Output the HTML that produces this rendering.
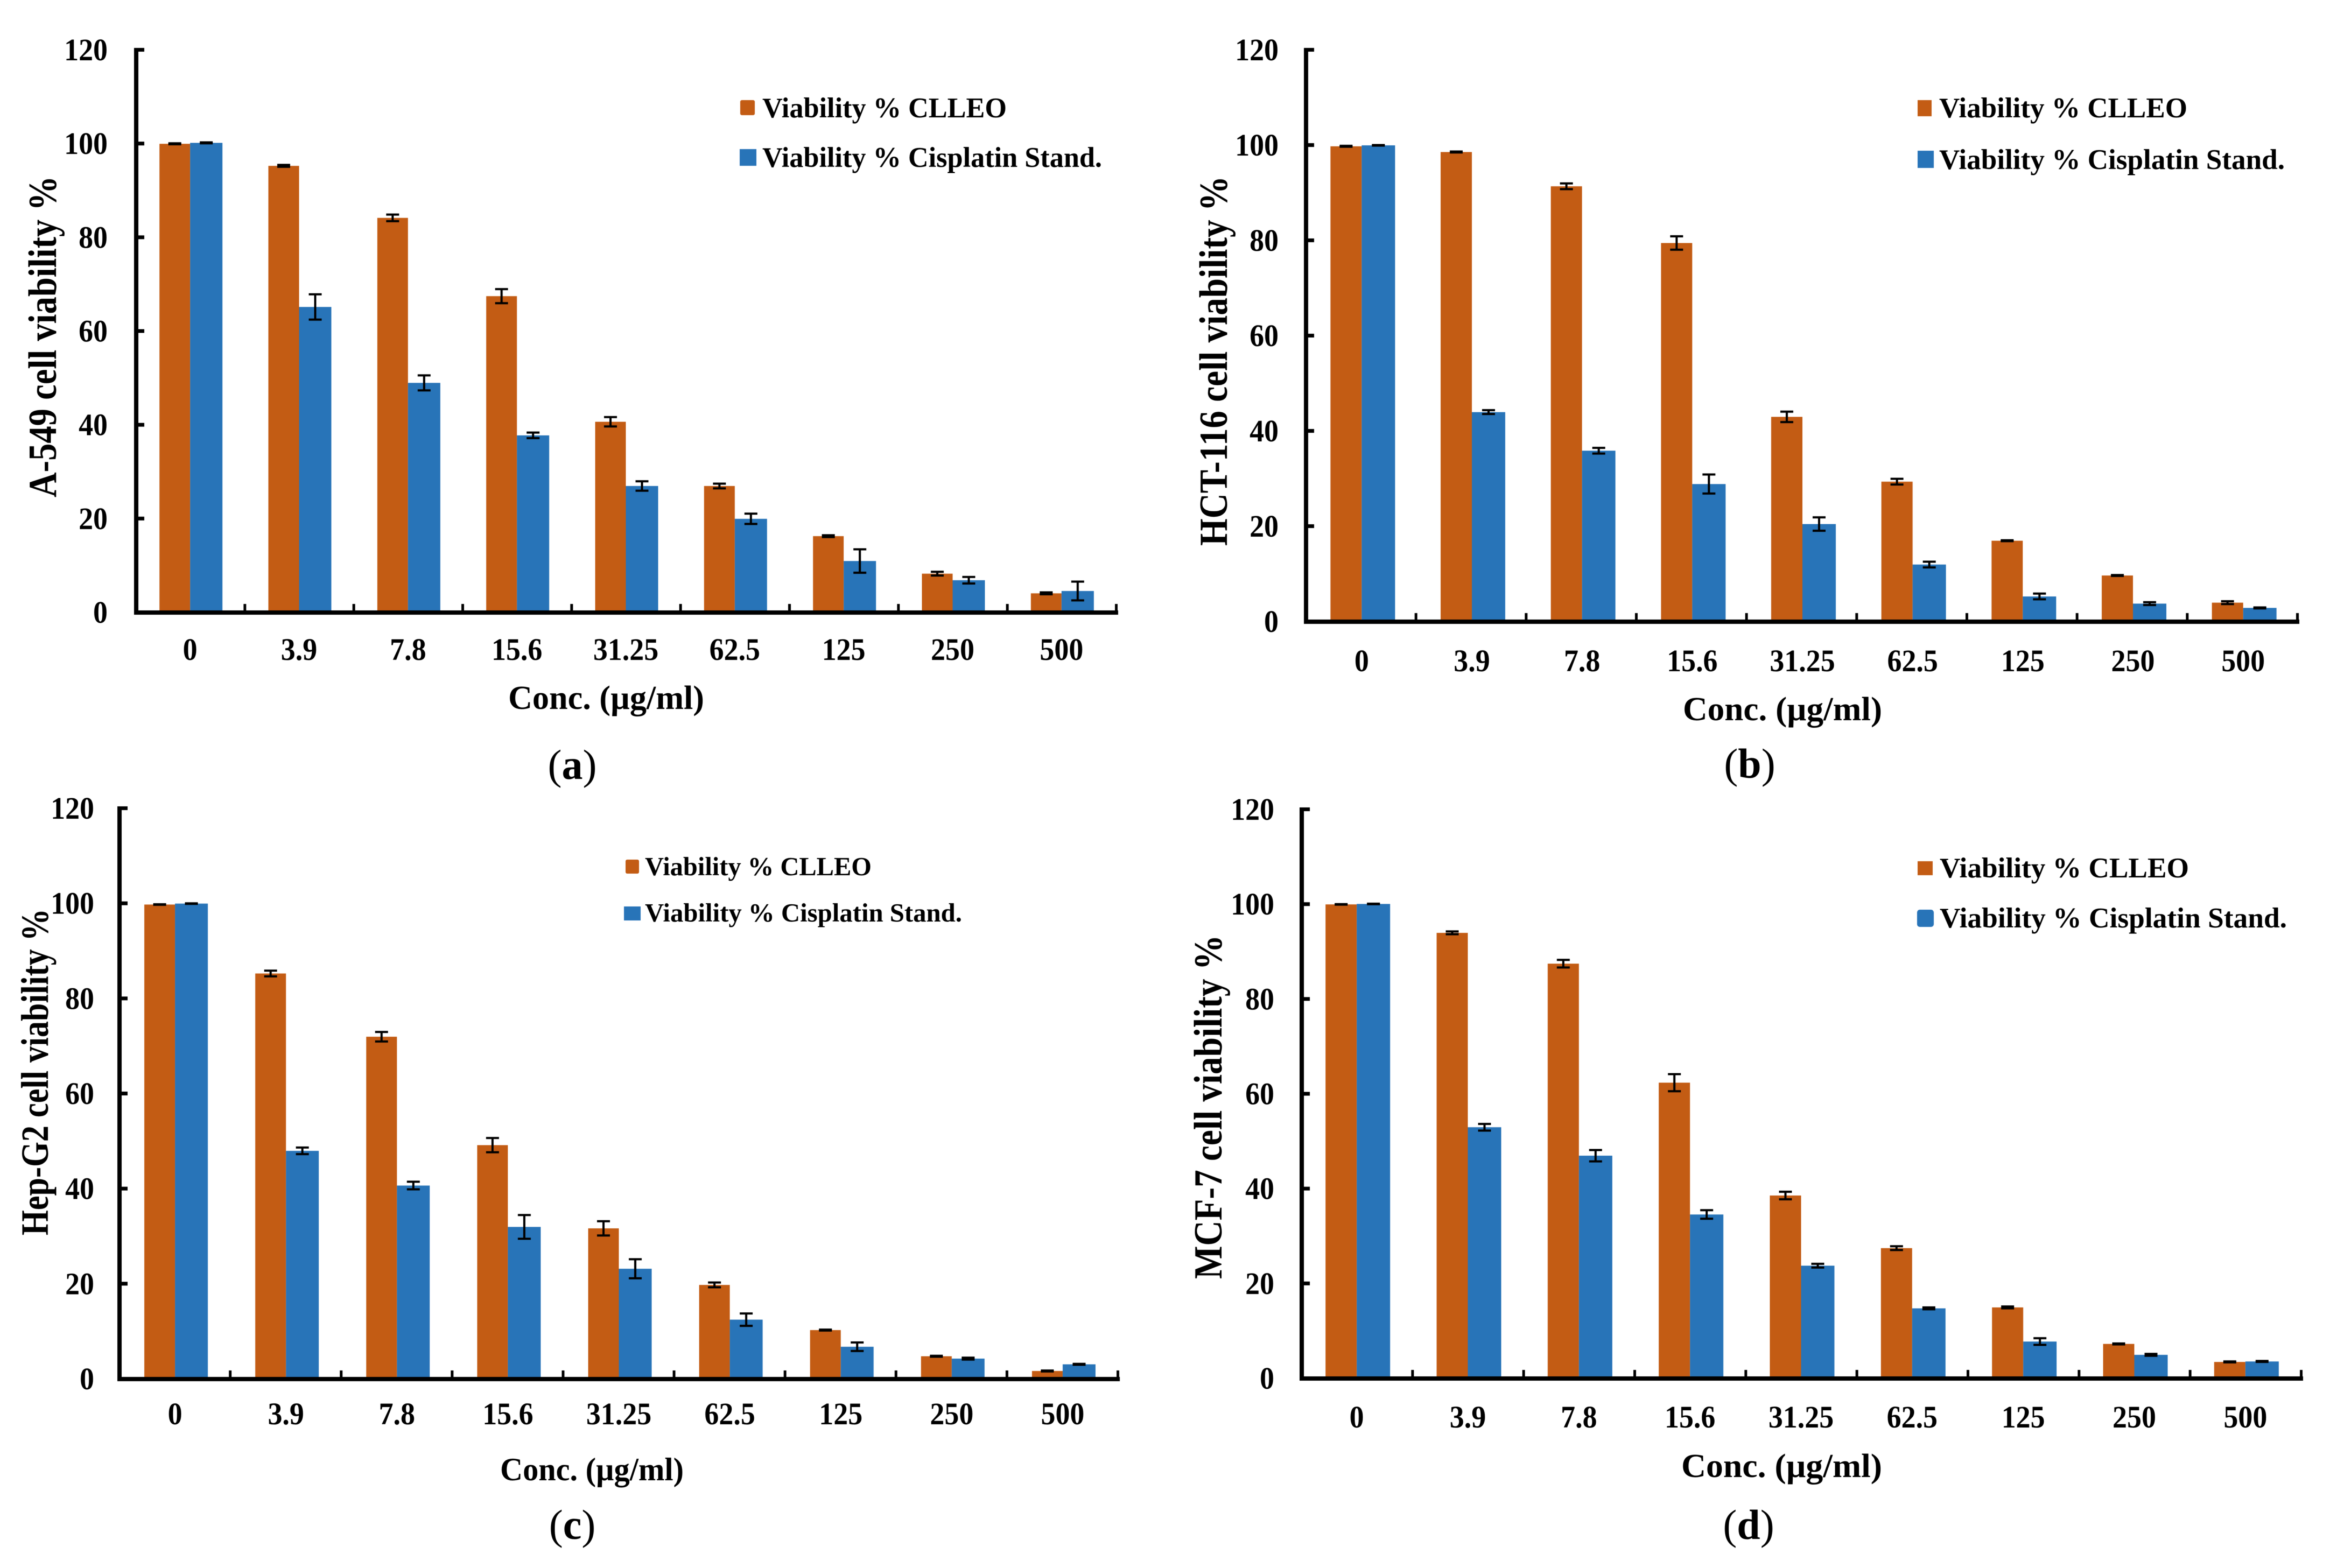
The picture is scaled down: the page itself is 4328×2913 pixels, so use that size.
<!DOCTYPE html>
<html lang="en">
<head>
<meta charset="utf-8">
<title>Cell viability charts</title>
<style>
html,body{margin:0;padding:0;background:#fff;}
svg{display:block;filter:blur(0.8px);}
text{font-family:"Liberation Serif",serif;font-weight:bold;fill:#000;}
.cap{font-weight:normal;font-size:78px;text-anchor:middle;}
.cap tspan{font-weight:bold;}
</style>
</head>
<body>
<svg id="figure" xmlns="http://www.w3.org/2000/svg" width="4328" height="2913" viewBox="0 0 4328 2913">
<rect x="0" y="0" width="4328" height="2913" fill="#fff"/>

<g id="panel-a">
  <text transform="translate(104,924) rotate(-90)" font-size="74" textLength="597" lengthAdjust="spacingAndGlyphs">A-549 cell viability %</text>
  <text x="944" y="1317" font-size="62" textLength="364" lengthAdjust="spacingAndGlyphs">Conc. (µg/ml)</text>
  <rect x="1375" y="186" width="27" height="28" rx="3" fill="#C35C14"/>
  <text x="1416" y="218" font-size="53" textLength="454" lengthAdjust="spacingAndGlyphs">Viability % CLLEO</text>
  <rect x="1374" y="277" width="31" height="31" fill="#2874B8"/>
  <text x="1416" y="310" font-size="53" textLength="631" lengthAdjust="spacingAndGlyphs">Viability % Cisplatin Stand.</text>
  <text class="cap" x="1063" y="1447">(<tspan>a</tspan>)</text>
</g>

<g id="panel-b">
  <text transform="translate(2279,1014) rotate(-90)" font-size="74" textLength="687" lengthAdjust="spacingAndGlyphs">HCT-116 cell viability %</text>
  <text x="3126" y="1338" font-size="62" textLength="370" lengthAdjust="spacingAndGlyphs">Conc. (µg/ml)</text>
  <rect x="3562" y="186" width="26" height="30" fill="#C35C14"/>
  <text x="3602" y="218" font-size="53" textLength="461" lengthAdjust="spacingAndGlyphs">Viability % CLLEO</text>
  <rect x="3562" y="280" width="30" height="32" fill="#2874B8"/>
  <text x="3602" y="314" font-size="53" textLength="642" lengthAdjust="spacingAndGlyphs">Viability % Cisplatin Stand.</text>
  <text class="cap" x="3250" y="1445">(<tspan>b</tspan>)</text>
</g>

<g id="panel-c">
  <text transform="translate(89,2295) rotate(-90)" font-size="72" textLength="607" lengthAdjust="spacingAndGlyphs">Hep-G2 cell viability %</text>
  <text x="929" y="2750" font-size="60" textLength="341" lengthAdjust="spacingAndGlyphs">Conc. (µg/ml)</text>
  <rect x="1162" y="1597" width="25" height="26" rx="3" fill="#C35C14"/>
  <text x="1198" y="1626" font-size="49" textLength="421" lengthAdjust="spacingAndGlyphs">Viability % CLLEO</text>
  <rect x="1159" y="1684" width="31" height="26" fill="#2874B8"/>
  <text x="1198" y="1712" font-size="49" textLength="589" lengthAdjust="spacingAndGlyphs">Viability % Cisplatin Stand.</text>
  <text class="cap" x="1063" y="2859">(<tspan>c</tspan>)</text>
</g>

<g id="panel-d">
  <text transform="translate(2269,2376) rotate(-90)" font-size="74" textLength="639" lengthAdjust="spacingAndGlyphs">MCF-7 cell viability %</text>
  <text x="3123" y="2744" font-size="62" textLength="373" lengthAdjust="spacingAndGlyphs">Conc. (µg/ml)</text>
  <rect x="3562" y="1600" width="28" height="26" fill="#C35C14"/>
  <text x="3603" y="1630" font-size="53" textLength="463" lengthAdjust="spacingAndGlyphs">Viability % CLLEO</text>
  <rect x="3561" y="1690" width="31" height="32" rx="5" fill="#2874B8"/>
  <text x="3603" y="1723" font-size="53" textLength="645" lengthAdjust="spacingAndGlyphs">Viability % Cisplatin Stand.</text>
  <text class="cap" x="3248" y="2859">(<tspan>d</tspan>)</text>
</g>
</svg>

<script>
// Shared axis data
const categories = ["0", "3.9", "7.8", "15.6", "31.25", "62.5", "125", "250", "500"];
const yTickLabels = [0, 20, 40, 60, 80, 100, 120];

// Panel (a) A-549
const a549Clleo = [100, 95.3, 84.2, 67.5, 40.7, 27, 16.3, 8.3, 4.1];
const a549ClleoErr = [0.1, 0.2, 0.7, 1.5, 1, 0.5, 0.2, 0.4, 0.2];
const a549Cisplatin = [100.2, 65.2, 49, 37.8, 27, 20, 11, 6.9, 4.6];
const a549CisplatinErr = [0.1, 2.7, 1.6, 0.6, 1, 1.1, 2.5, 0.7, 2];

// Panel (b) HCT-116
const hctClleo = [99.8, 98.6, 91.4, 79.5, 43, 29.4, 17, 9.7, 4];
const hctClleoErr = [0.1, 0.1, 0.6, 1.4, 1.1, 0.6, 0.1, 0.1, 0.3];
const hctCisplatin = [100, 44, 35.9, 28.9, 20.5, 12, 5.3, 3.8, 2.9];
const hctCisplatinErr = [0.05, 0.4, 0.6, 2, 1.4, 0.6, 0.6, 0.3, 0.1];

// Panel (c) Hep-G2
const hepClleo = [99.8, 85.3, 72, 49.2, 31.7, 19.8, 10.3, 4.8, 1.7];
const hepClleoErr = [0.05, 0.6, 1, 1.5, 1.5, 0.5, 0.1, 0.1, 0.1];
const hepCisplatin = [100, 48, 40.7, 32, 23.2, 12.5, 6.8, 4.3, 3.1];
const hepCisplatinErr = [0.05, 0.7, 0.8, 2.5, 2, 1.3, 0.9, 0.2, 0.1];

// Panel (d) MCF-7
const mcfClleo = [100, 94, 87.5, 62.4, 38.6, 27.5, 15, 7.3, 3.5];
const mcfClleoErr = [0.05, 0.3, 0.8, 1.8, 0.8, 0.4, 0.2, 0.1, 0.1];
const mcfCisplatin = [100.1, 53, 47, 34.6, 23.8, 14.8, 7.8, 5, 3.6];
const mcfCisplatinErr = [0.05, 0.7, 1.2, 0.9, 0.4, 0.2, 0.7, 0.2, 0.1];

const SVGNS = "http://www.w3.org/2000/svg";
const ORANGE = "#C35C14";
const BLUE = "#2874B8";

function make(tag, parent, attrs) {
  const node = document.createElementNS(SVGNS, tag);
  for (const k in attrs) node.setAttribute(k, attrs[k]);
  parent.appendChild(node);
  return node;
}

function drawSeries(g, frame, xCenter, yScale, values, errs, isClleo) {
  values.forEach(function (v, i) {
    const cx = xCenter(i);
    const left = isClleo ? cx - frame.ow : cx;
    const w = isClleo ? frame.ow : frame.bw;
    const bar = make("rect", g, {x: left, y: yScale(v), width: w, height: yScale(0) - yScale(v), fill: isClleo ? ORANGE : BLUE});
    
    
  });
  values.forEach(function (v, i) {
    const cx = xCenter(i);
    const mid = isClleo ? cx - frame.ow / 2 : cx + frame.bw / 2;
    const top = yScale(v + errs[i]);
    const bottom = yScale(v - errs[i]);
    const stem = make("line", g, {x1: mid, x2: mid, y1: top, y2: bottom, stroke: "#000", "stroke-width": 4});
    
    
    const capTop = make("line", g, {x1: mid - 12, x2: mid + 12, y1: top, y2: top, stroke: "#000", "stroke-width": 4});
    
    
    const capBottom = make("line", g, {x1: mid - 12, x2: mid + 12, y1: bottom, y2: bottom, stroke: "#000", "stroke-width": 4});
    
    
  });
}

function drawPanel(frame, clleo, clleoErr, cis, cisErr) {
  const g = document.getElementById(frame.id);
  const step = (frame.xr - frame.x0) / categories.length;
  const xCenter = function (i) { return frame.x0 + (i + 0.5) * step + frame.off; };
  const yScale = function (v) { return frame.y0 - v * (frame.y0 - frame.top) / 120; };

  drawSeries(g, frame, xCenter, yScale, clleo, clleoErr, true);
  drawSeries(g, frame, xCenter, yScale, cis, cisErr, false);

  const yAxis = make("rect", g, {x: frame.x0 - 4, y: frame.top - 4, width: 8, height: frame.y0 - frame.top + 8, fill: "#000"});
  
  
  const xAxis = make("rect", g, {x: frame.x0 - 4, y: frame.y0 - 4, width: frame.xr - frame.x0 + 7, height: 8, fill: "#000"});
  
  

  yTickLabels.forEach(function (t) {
    const y = yScale(t);
    const tick = make("rect", g, {x: frame.x0, y: y - 4, width: 15, height: 7, fill: "#000"});
    
    
    const label = make("text", g, {transform: "translate(" + frame.yLabelX + "," + (y + 19) + ") scale(0.93,1)", "text-anchor": "end", "font-size": 58});
    
    
    label.textContent = String(t);
  });

  categories.forEach(function (c, i) {
    const tx = frame.x0 + (i + 1) * step;
    const tick = make("rect", g, {x: tx - 3, y: frame.y0 - 16, width: 5, height: 14, fill: "#000"});
    
    
    const label = make("text", g, {transform: "translate(" + xCenter(i) + "," + frame.xLabelY + ") scale(0.93,1)", "text-anchor": "middle", "font-size": 58});
    
    
    label.textContent = c;
  });
}

drawPanel({id: "panel-a", x0: 253, xr: 2074, top: 93, y0: 1138, off: -1, ow: 57, bw: 60, yLabelX: 200, xLabelY: 1226}, a549Clleo, a549ClleoErr, a549Cisplatin, a549CisplatinErr);
drawPanel({id: "panel-b", x0: 2426, xr: 4268, top: 93, y0: 1155, off: 1, ow: 58, bw: 62, yLabelX: 2375, xLabelY: 1247}, hctClleo, hctClleoErr, hctCisplatin, hctCisplatinErr);
drawPanel({id: "panel-c", x0: 222, xr: 2077, top: 1502, y0: 2562, off: 0, ow: 57, bw: 61, yLabelX: 175, xLabelY: 2646}, hepClleo, hepClleoErr, hepCisplatin, hepCisplatinErr);
drawPanel({id: "panel-d", x0: 2418, xr: 4275, top: 1504, y0: 2561, off: -1, ow: 58, bw: 62, yLabelX: 2367, xLabelY: 2652}, mcfClleo, mcfClleoErr, mcfCisplatin, mcfCisplatinErr);
</script>
</body>
</html>
